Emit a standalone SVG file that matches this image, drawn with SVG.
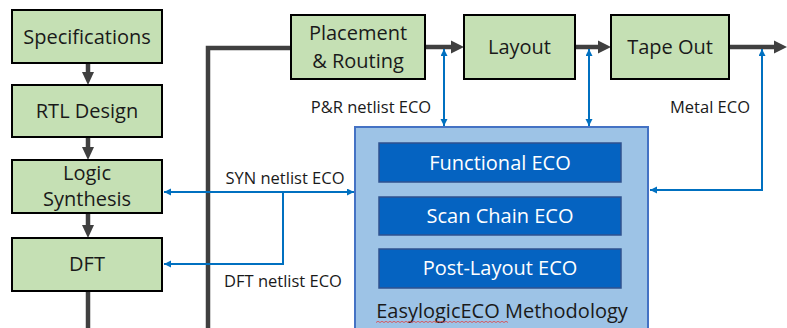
<svg xmlns="http://www.w3.org/2000/svg" width="787" height="328" viewBox="0 0 787 328">
  <defs>
    <style>
      .flow { fill: #C5E0B4; stroke: #000; stroke-width: 2; }
      .label { font-family: "Open Sans", "Liberation Sans", sans-serif; fill: #1a1a1a; text-anchor: middle; }
      .box { font-size: 20px; }
      .note { font-size: 16.5px; }
      .eco { fill: #0563C1; stroke: #2F528F; stroke-width: 1.5; }
      .ecotext { font-family: "Open Sans", "Liberation Sans", sans-serif; font-size: 20px; fill: #fff; text-anchor: middle; }
      .main { fill: none; stroke: #404040; stroke-width: 4.5; }
      .head { fill: #404040; }
      .link { fill: none; stroke: #0070C0; stroke-width: 2; }
    </style>
    <marker id="tip" markerUnits="userSpaceOnUse" markerWidth="8" markerHeight="8" refX="7" refY="3.5" orient="auto-start-reverse">
      <path d="M0,0 L7,3.5 L0,7 z" fill="#0070C0"/>
    </marker>
  </defs>

  <!-- main design flow connectors -->
  <g id="connectors">
    <line class="main" x1="88" y1="63" x2="88" y2="73"/>
    <polygon class="head" points="82,72 94,72 88,85"/>
    <line class="main" x1="88" y1="137" x2="88" y2="148"/>
    <polygon class="head" points="82,147 94,147 88,160"/>
    <line class="main" x1="88" y1="213" x2="88" y2="226"/>
    <polygon class="head" points="82,225 94,225 88,238"/>
    <line class="main" x1="88" y1="291" x2="88" y2="332"/>
    <path class="main" d="M208,332 V48 H291"/>
    <line class="main" x1="425" y1="47" x2="452" y2="47"/>
    <polygon class="head" points="451,40.5 451,53.5 464,47"/>
    <line class="main" x1="575" y1="47" x2="599" y2="47"/>
    <polygon class="head" points="598,40.5 598,53.5 611,47"/>
    <line class="main" x1="729" y1="47" x2="775" y2="47"/>
    <polygon class="head" points="774,40.5 774,53.5 787,47"/>

    <!-- ECO feedback links -->
    <line class="link" x1="444" y1="49" x2="444" y2="126" marker-start="url(#tip)" marker-end="url(#tip)"/>
    <line class="link" x1="589" y1="49" x2="589" y2="126" marker-start="url(#tip)" marker-end="url(#tip)"/>
    <path class="link" d="M762,49 V190 H650" marker-start="url(#tip)" marker-end="url(#tip)"/>
    <line class="link" x1="164" y1="192" x2="354" y2="192" marker-start="url(#tip)" marker-end="url(#tip)"/>
    <path class="link" d="M283,192 V264 H164" marker-end="url(#tip)"/>
  </g>

  <g id="specifications">
    <rect class="flow" x="12" y="10" width="150" height="53"/>
    <text class="label box" x="87" y="44">Specifications</text>
  </g>
  <g id="rtl-design">
    <rect class="flow" x="12" y="85" width="150" height="52"/>
    <text class="label box" x="87" y="118">RTL Design</text>
  </g>
  <g id="logic-synthesis">
    <rect class="flow" x="12" y="160" width="150" height="53"/>
    <text class="label box" x="87" y="180">Logic</text>
    <text class="label box" x="87" y="206">Synthesis</text>
  </g>
  <g id="dft">
    <rect class="flow" x="12" y="238" width="150" height="53"/>
    <text class="label box" x="87" y="271">DFT</text>
  </g>
  <g id="placement-routing">
    <rect class="flow" x="291" y="15" width="134" height="64"/>
    <text class="label box" x="358" y="40">Placement</text>
    <text class="label box" x="358" y="68">&amp; Routing</text>
  </g>
  <g id="layout">
    <rect class="flow" x="464" y="15" width="111" height="64"/>
    <text class="label box" x="519.5" y="54">Layout</text>
  </g>
  <g id="tape-out">
    <rect class="flow" x="611" y="15" width="118" height="64"/>
    <text class="label box" x="670" y="54">Tape Out</text>
  </g>

  <!-- link labels -->
  <g id="link-labels">
    <text class="label note" x="371" y="113">P&amp;R netlist ECO</text>
    <text class="label note" x="710" y="113">Metal ECO</text>
    <text class="label note" x="285" y="184">SYN netlist ECO</text>
    <text class="label note" x="283" y="287">DFT netlist ECO</text>
  </g>

  <g id="easylogic-eco">
    <rect x="355" y="127" width="293" height="212" fill="#9DC3E6" stroke="#4472C4" stroke-width="2"/>
    <g id="functional-eco">
      <rect class="eco" x="379" y="143" width="242" height="39"/>
      <text class="ecotext" x="500" y="170">Functional ECO</text>
    </g>
    <g id="scan-chain-eco">
      <rect class="eco" x="379" y="197" width="242" height="38"/>
      <text class="ecotext" x="500" y="223">Scan Chain ECO</text>
    </g>
    <g id="post-layout-eco">
      <rect class="eco" x="379" y="249" width="242" height="39"/>
      <text class="ecotext" x="500" y="275">Post-Layout ECO</text>
    </g>
    <text class="label" x="502" y="318" font-size="20">EasylogicECO Methodology</text>
    <path d="M376,322.5 l2,-1.2 l2,1.2 l2,-1.2 l2,1.2 l2,-1.2 l2,1.2 l2,-1.2 l2,1.2 l2,-1.2 l2,1.2 l2,-1.2 l2,1.2 l2,-1.2 l2,1.2 l2,-1.2 l2,1.2 l2,-1.2 l2,1.2 l2,-1.2 l2,1.2 l2,-1.2 l2,1.2 l2,-1.2 l2,1.2 l2,-1.2 l2,1.2 l2,-1.2 l2,1.2 l2,-1.2 l2,1.2 l2,-1.2 l2,1.2 l2,-1.2 l2,1.2 l2,-1.2 l2,1.2 l2,-1.2 l2,1.2 l2,-1.2 l2,1.2 l2,-1.2 l2,1.2 l2,-1.2 l2,1.2 l2,-1.2 l2,1.2 l2,-1.2 l2,1.2 l2,-1.2 l2,1.2 l2,-1.2 l2,1.2 l2,-1.2 l2,1.2 l2,-1.2 l2,1.2 l2,-1.2 l2,1.2 l2,-1.2 l2,1.2 l2,-1.2 l2,1.2 l2,-1.2 l2,1.2 l2,-1.2 l2,1.2" fill="none" stroke="#E04040" stroke-width="0.8"/>
  </g>
</svg>
